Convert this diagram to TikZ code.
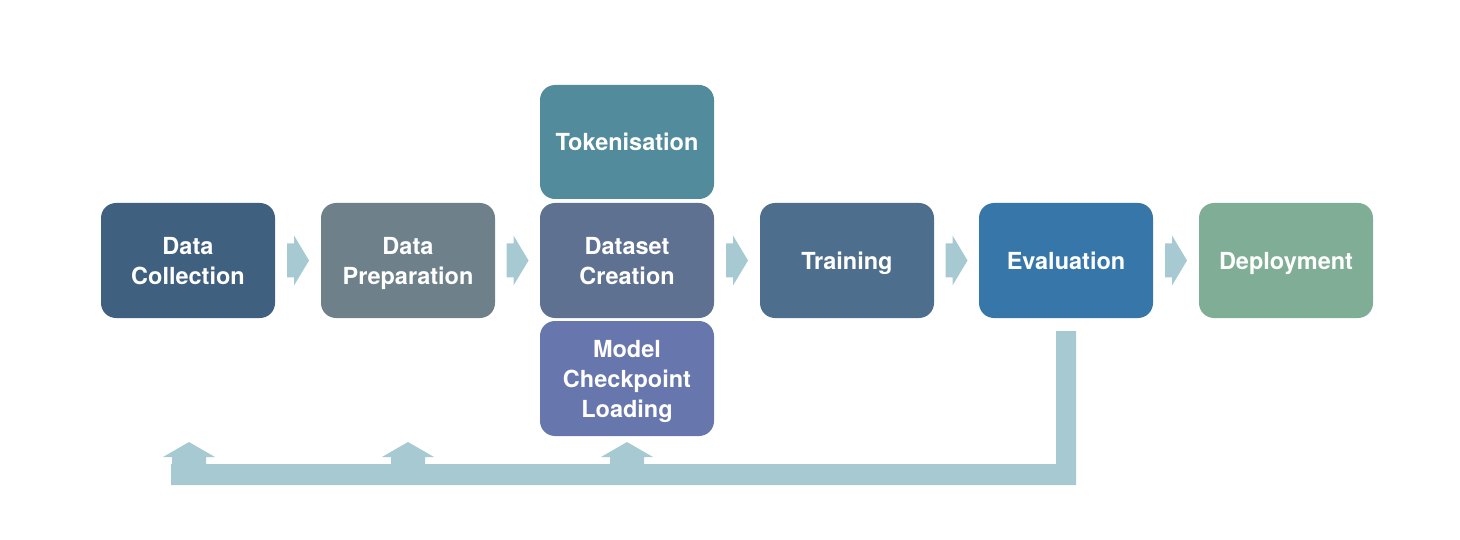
\documentclass[tikz,border=0pt]{standalone}
\usepackage{fontspec}
\setmainfont{TeX Gyre Heros}
\definecolor{cA}{HTML}{40607F}
\definecolor{cB}{HTML}{6E8089}
\definecolor{cC}{HTML}{5E7190}
\definecolor{cT}{HTML}{528B9B}
\definecolor{cM}{HTML}{6876AE}
\definecolor{cD}{HTML}{4D6E8C}
\definecolor{cE}{HTML}{3776A8}
\definecolor{cF}{HTML}{7FAD95}
\definecolor{arr}{HTML}{A7CAD2}
\begin{document}
\begin{tikzpicture}[x=1pt,y=-1pt,
  stage/.style={rounded corners=15pt, minimum width=174pt, minimum height=115pt, inner sep=0pt,
    text=white, font=\fontsize{23.5}{30}\selectfont\bfseries, align=center,
    text depth=0pt},
  flowarrow/.style={fill=arr, draw=none}]
\useasboundingbox (0,0) rectangle (1460,540);
\node[stage, fill=cA] (dc) at (188,260.5) {Data\\Collection};
\node[stage, fill=cB] (dp) at (408,260.5) {Data\\Preparation};
\node[stage, fill=cC] (ds) at (627,260.5) {Dataset\\Creation};
\node[stage, fill=cT, minimum height=114pt] (tk) at (627,142) {Tokenisation};
\node[stage, fill=cM] (mc) at (627,378.5) {Model\\Checkpoint\\Loading};
\node[stage, fill=cD] (tr) at (847,260.5) {Training};
\node[stage, fill=cE] (ev) at (1066,260.5) {Evaluation};
\node[stage, fill=cF] (de) at (1286,260.5) {Deployment};
% horizontal block arrows
\foreach \a/\b [count=\i] in {dc/dp,dp/ds,ds/tr,tr/ev,ev/de}{
  \path (\a.east) -- (\b.west) coordinate[pos=0.5] (m\i);
  \fill[flowarrow] ([xshift=-11pt,yshift=-17pt]m\i) -- ([xshift=-4pt,yshift=-17pt]m\i) -- ([xshift=-4pt,yshift=-25pt]m\i)
    -- ([xshift=11pt]m\i) -- ([xshift=-4pt,yshift=25pt]m\i) -- ([xshift=-4pt,yshift=17pt]m\i)
    -- ([xshift=-11pt,yshift=17pt]m\i) -- cycle;
}
% feedback loop
\fill[flowarrow] (1056,331) -- (1076,331) -- (1076,485) -- (171,485) -- (171,464) -- (1056,464) -- cycle;
\foreach \n/\c in {dc/189,dp/408,mc/627}{
  \fill[flowarrow] (\c-17,465) -- (\c-17,457) -- (\c-26,457) -- (\c,442) -- (\c+26,457) -- (\c+17,457) -- (\c+17,465) -- cycle;
}
\end{tikzpicture}
\end{document}
